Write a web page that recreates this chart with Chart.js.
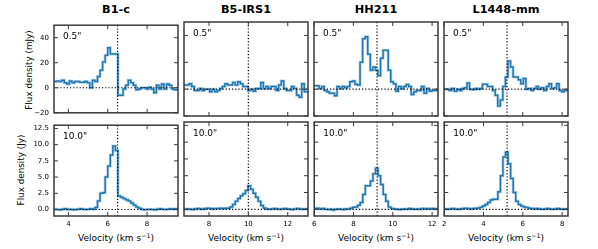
<!DOCTYPE html>
<html>
<head>
<meta charset="utf-8">
<script src="https://cdn.jsdelivr.net/npm/chart.js@4"></script>
<style>
body { margin: 0; width: 598px; height: 249px; background: #fff; position: relative; overflow: hidden; font-family: "DejaVu Sans", sans-serif; }
canvas { position: absolute; }
.ttl { position: absolute; top: 3px; transform: translateX(-50%); font-weight: bold; font-size: 11.3px; line-height: 14px; white-space: nowrap; }
.xl { position: absolute; top: 231px; transform: translateX(-50%); font-size: 9px; line-height: 14px; white-space: nowrap; }
.xl sup { font-size: 6.3px; line-height: 0; vertical-align: 3.5px; }
.yl { position: absolute; transform: translate(-50%, -50%) rotate(-90deg); font-size: 8.8px; line-height: 11px; white-space: nowrap; }
</style>
</head>
<body>
<div class="ttl" style="left:116px">B1-c</div>
<div class="ttl" style="left:246px">B5-IRS1</div>
<div class="ttl" style="left:376px">HH211</div>
<div class="ttl" style="left:506px">L1448-mm</div>
<div class="yl" style="left:29px; top:70px">Flux density (mJy)</div>
<div class="yl" style="left:21px; top:170px">Flux density (Jy)</div>
<div class="xl" style="left:116px">Velocity (km s<sup>−1</sup>)</div>
<div class="xl" style="left:246px">Velocity (km s<sup>−1</sup>)</div>
<div class="xl" style="left:376px">Velocity (km s<sup>−1</sup>)</div>
<div class="xl" style="left:506px">Velocity (km s<sup>−1</sup>)</div>
<script>
'use strict'

//------------- DATA ------------- //
var sources = ['B1-c', 'B5-IRS1', 'HH211', 'L1448-mm'];
var vlsr = [6.5, 10.0, 9.2, 5.2];
var velMin = [3.27, 6.73, 6.0, 2.0];
var velSpan = 6.3;
var chanStart = [3.335, 6.795, 6.065, 2.065];
var chanWidth = 0.13;
var xTicks = [[4, 6, 8], [8, 10, 12], [6, 8, 10, 12], [2, 4, 6, 8]];
var beams = ['0.5"', '10.0"'];
var yTicksSmall = [-20, 0, 20, 40];
var yTicksLarge = [0, 2.5, 5, 7.5, 10, 12.5];
var yRangeSmall = [-20, 50];
var yRangeLarge = [-1, 13];

// 0.5" beam, mJy
var b1cSmall = [5, 5.5, 5, 6, 4, 3, 5.4, 4, 5, 5, 4.5, 4.5, 5, 4, 0, 6, 5, 9, 14, 20.5, 26, 32, 27, 27, 27, -6, -6, -1, 2, 6, 4, 2, -1.5, -1, 0, 0, -1, 0.5, -1, -4, 2, -1, 3, -1, 3, 2, -1, -1.5];
var b5Small = [3, 3, 4, 2, -1, -1, 0.5, -1, 0, 0, -2, 0, -2, -1, 0.5, 2, 4, 3, 3, 5, 3, 5.5, 4, 2, 2, -1, 0, -1.5, 0.5, 0.5, 5, 0.5, 2, 0.5, 2, 2, -1, 3, 6, 0.5, -1, -1, 2, 0.5, -4.5, -6, 4, -2];
var hh211Small = [2.5, 2.5, 0.5, 2, -1, -2, -3, -3, -5, 2, 0.5, 2, 1, 2, 5.5, 6, 3.7, 3, 20, 37.5, 39, 26, 14, 16.5, 14, 10, 23, 29, 29, 14, 5.5, 4, -1.5, 2, 0.5, 2, 3.5, 2, -4, -2, -1, -1, 2, -3, 0.5, -1.5, -1, -1];
var l1448Small = [0, 0, -1, 0.5, -1.5, 0, -1, 0.5, 1, 4.5, 0, -0.5, 0.5, 0, 0.5, 3.7, 3.7, 2, 2, -1, -4.5, -12.5, -8, 2, 9, 21, 16.5, 9, 9, 7, 4, 8, 0, 0.5, -1, 0.5, 2, 0, 1, -1, 2, 4, 0.5, 1, 4, -1, -2, -1];

// 10.0" beam, Jy
var b1cLarge = [0.05, 0, -0.05, 0.05, 0.1, 0, 0.05, -0.05, 0, 0.05, 0.1, 0.05, 0, 0.05, 0.1, 0.05, 0.3, 1.3, 2.5, 2.6, 5.0, 6.7, 8.4, 9.8, 9.1, 2.1, 1.9, 1.7, 1.5, 1.3, 1.0, 0.7, 0.4, 0.2, 0.05, -0.05, 0, 0.05, 0, -0.05, 0.05, 0.1, 0.05, 0, 0.05, 0.1, 0.05, 0.1];
var b5Large = [0, 0.05, 0, -0.05, 0.05, 0.1, 0.05, 0, 0.1, 0.15, 0.1, 0.05, 0.1, 0.1, 0.15, 0.1, 0.15, 0.15, 0.35, 0.7, 1.2, 1.6, 2.0, 2.3, 2.8, 3.5, 3.0, 2.4, 1.8, 1.2, 0.55, 0.2, 0.05, 0, 0.05, 0.1, 0.05, 0, 0.05, 0.1, 0.05, 0, -0.05, 0.05, 0.1, 0.05, 0, 0.05];
var hh211Large = [0.1, 0.15, 0.05, 0.1, 0, -0.05, 0, -0.1, 0, 0.05, 0, -0.05, 0.05, 0.05, 0.15, 0.3, 0.35, 0.6, 1.0, 2.2, 3.5, 3.5, 4.2, 5.3, 6.1, 5.0, 3.7, 2.2, 1.2, 0.35, 0.1, 0.05, 0, -0.05, 0, 0.05, 0, 0.1, 0.05, 0, 0.05, 0, 0.1, 0.05, 0.1, 0.05, 0.1, 0.05];
var l1448Large = [0.05, 0, 0.05, 0.1, 0.05, 0, 0.05, 0.1, 0.15, 0.1, 0.05, 0.1, 0.15, 0.2, 0.3, 0.5, 0.7, 1.0, 1.4, 1.5, 1.5, 2.6, 5.0, 7.8, 8.5, 6.8, 4.6, 2.5, 1.2, 0.7, 0.5, 0.35, 0.25, 0.15, 0.1, 0.05, 0.1, 0.05, 0, 0.05, 0.1, 0.05, 0, 0.05, 0.1, 0.05, 0, 0.05];

var spectra = [
	[b1cSmall, b5Small, hh211Small, l1448Small],
	[b1cLarge, b5Large, hh211Large, l1448Large]
];

//------------- LAYOUT ------------- //
var panelLeft = [54, 184, 314, 444];
var panelTop = [22, 122];
var panelW = 124;
var panelH = 94;
var frameColor = '#3a3a3a';

Chart.defaults.font.family = '"DejaVu Sans", sans-serif';

function minusFmt(v) {
	return v < 0 ? '\u2212' + Math.abs(v) : String(v);
}

function makeDeco(v0, xt, yt, beam) {
	return {
		id: 'deco',
		afterDatasetsDraw: function(chart) {
			var c = chart.ctx;
			var a = chart.chartArea;
			var xs = chart.scales.x;
			var ys = chart.scales.y;
			c.save();
			// dotted zero and systemic velocity lines
			c.strokeStyle = '#000';
			c.lineWidth = 1.2;
			c.setLineDash([1.2, 2]);
			c.beginPath();
			var y0 = ys.getPixelForValue(0);
			c.moveTo(a.left, y0);
			c.lineTo(a.right, y0);
			var xv = xs.getPixelForValue(v0);
			c.moveTo(xv, a.top);
			c.lineTo(xv, a.bottom);
			c.stroke();
			c.setLineDash([]);
			// inward ticks on all four sides
			c.strokeStyle = frameColor;
			c.lineWidth = 1;
			c.beginPath();
			xt.forEach(function(v) {
				var p = xs.getPixelForValue(v);
				c.moveTo(p, a.bottom); c.lineTo(p, a.bottom - 4);
				c.moveTo(p, a.top); c.lineTo(p, a.top + 4);
			});
			yt.forEach(function(v) {
				var p = ys.getPixelForValue(v);
				c.moveTo(a.left, p); c.lineTo(a.left + 4, p);
				c.moveTo(a.right, p); c.lineTo(a.right - 4, p);
			});
			c.stroke();
			c.lineWidth = 1.5;
			c.strokeRect(a.left, a.top, a.right - a.left, a.bottom - a.top);
			c.fillStyle = '#000';
			c.font = '9px "DejaVu Sans"';
			c.textBaseline = 'middle';
			c.fillText(beam, a.left + 9, a.top + 11.5);
			c.restore();
		}
	};
}

function drawPanel(row, col) {
	var vals = spectra[row][col];
	var pts = vals.map(function(f, i) {
		return { x: chanStart[col] + i * chanWidth, y: f };
	});
	pts.unshift({ x: velMin[col], y: vals[0] });
	pts.push({ x: velMin[col] + velSpan, y: vals[vals.length - 1] });

	var yt = row == 0 ? yTicksSmall : yTicksLarge;
	var yr = row == 0 ? yRangeSmall : yRangeLarge;
	var yW = col == 0 ? 40 : 0;
	var xH = row == 1 ? 20 : 0;
	var pad = 6;
	var cw = pad + yW + panelW + pad;
	var ch = pad + panelH + xH + pad;

	var cv = document.createElement('canvas');
	cv.width = cw;
	cv.height = ch;
	cv.style.left = (panelLeft[col] - pad - yW) + 'px';
	cv.style.top = (panelTop[row] - pad) + 'px';
	cv.style.width = cw + 'px';
	cv.style.height = ch + 'px';
	document.body.appendChild(cv);

	new Chart(cv.getContext('2d'), {
		type: 'line',
		data: {
			datasets: [{
				data: pts,
				stepped: 'middle',
				borderColor: 'rgba(31,119,180,0.3)',
				borderWidth: 3,
				pointRadius: 0,
				fill: false
			}, {
				data: pts,
				stepped: 'middle',
				borderColor: '#1f77b4',
				borderWidth: 1.5,
				pointRadius: 0,
				fill: false
			}]
		},
		options: {
			responsive: false,
			animation: false,
			devicePixelRatio: 1,
			events: [],
			layout: { padding: pad },
			plugins: { legend: { display: false }, tooltip: { enabled: false } },
			scales: {
				x: {
					type: 'linear',
					min: velMin[col],
					max: velMin[col] + velSpan,
					afterBuildTicks: function(s) { s.ticks = xTicks[col].map(function(v) { return { value: v }; }); },
					afterFit: function(s) { s.height = xH; },
					grid: { display: false, drawTicks: false },
					border: { display: false },
					ticks: { display: row == 1, padding: 4, maxRotation: 0, autoSkip: false, color: '#000', font: { size: 7 } }
				},
				y: {
					type: 'linear',
					min: yr[0],
					max: yr[1],
					afterBuildTicks: function(s) { s.ticks = yt.map(function(v) { return { value: v }; }); },
					afterFit: function(s) { s.width = yW; },
					grid: { display: false, drawTicks: false },
					border: { display: false },
					ticks: {
						display: col == 0,
						padding: 5,
						color: '#000',
						font: { size: 7 },
						callback: function(v) { return row == 0 ? minusFmt(v) : v.toFixed(1); }
					}
				}
			}
		},
		plugins: [makeDeco(vlsr[col], xTicks[col], yt, beams[row])]
	});
}

window.onload = function() {
	for (var r = 0; r < 2; r++) {
		for (var c = 0; c < 4; c++) {
			drawPanel(r, c);
		}
	}
};
</script>
</body>
</html>
